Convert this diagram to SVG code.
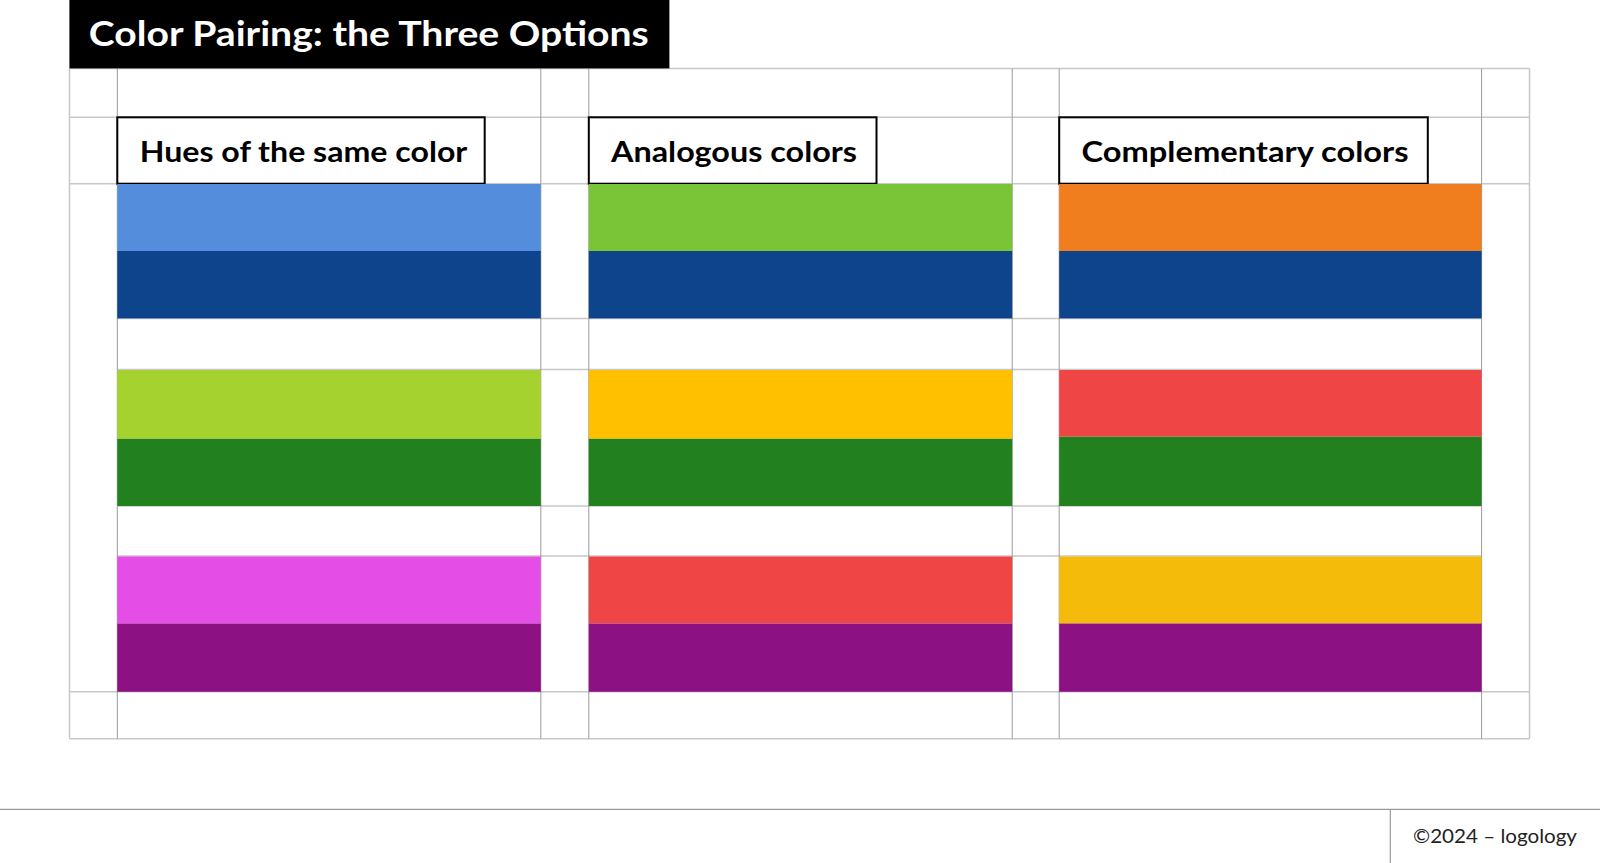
<svg xmlns="http://www.w3.org/2000/svg" width="1600" height="863" viewBox="0 0 1600 863">
<style>
.gl{stroke:#c8c8c8;stroke-width:1.5;fill:none}
.gi{stroke:#9a9a9a;stroke-width:1;fill:none}
.hb{fill:#fff;stroke:#000;stroke-width:2}
.ht{font-family:Lato,"Liberation Sans",sans-serif;font-weight:700;font-size:29px;fill:#000}
.lb{fill:#538DDB}.db{fill:#0E448C}.yg{fill:#A5D22F}.gr{fill:#22801E}.mg{fill:#E54EE6}.pu{fill:#8C1283}
.ag{fill:#7AC537}.ye{fill:#FFC000}.rd{fill:#EF4545}.or{fill:#F07D1E}.yo{fill:#F4BB0A}
</style>
<rect width="1600" height="863" fill="#fff"/>
<g id="grid">
<line class="gl" x1="69.5" y1="68.5" x2="1529.5" y2="68.5"/>
<line class="gl" x1="69.5" y1="117.3" x2="1529.5" y2="117.3"/>
<line class="gl" x1="69.5" y1="183.7" x2="1529.5" y2="183.7"/>
<line class="gl" x1="117.3" y1="318.4" x2="1481.6" y2="318.4"/>
<line class="gl" x1="117.3" y1="369.5" x2="1481.6" y2="369.5"/>
<line class="gl" x1="117.3" y1="506" x2="1481.6" y2="506"/>
<line class="gl" x1="117.3" y1="556" x2="1481.6" y2="556"/>
<line class="gl" x1="69.5" y1="691.8" x2="1529.5" y2="691.8"/>
<line class="gl" x1="69.5" y1="738.8" x2="1529.5" y2="738.8"/>
<line class="gl" x1="69.5" y1="68.5" x2="69.5" y2="738.8"/>
<line class="gl" x1="1529.5" y1="68.5" x2="1529.5" y2="738.8"/>
<line class="gi" x1="117.3" y1="68.5" x2="117.3" y2="738.8"/>
<line class="gi" x1="540.8" y1="68.5" x2="540.8" y2="738.8"/>
<line class="gi" x1="588.8" y1="68.5" x2="588.8" y2="738.8"/>
<line class="gi" x1="1012.2" y1="68.5" x2="1012.2" y2="738.8"/>
<line class="gi" x1="1059.2" y1="68.5" x2="1059.2" y2="738.8"/>
<line class="gi" x1="1481.6" y1="68.5" x2="1481.6" y2="738.8"/>
</g>
<g id="title">
<rect x="69.4" y="0" width="600" height="68.4" fill="#000"/>
<text x="88.8" y="45.7" font-family="Lato,'Liberation Sans',sans-serif" font-weight="700" font-size="35" fill="#fff" textLength="560" lengthAdjust="spacingAndGlyphs">Color Pairing: the Three Options</text>
</g>
<g id="col-hues">
<rect class="hb" x="117.3" y="117.3" width="367.4" height="66.4"/>
<text class="ht" x="139.8" y="161.7" textLength="327.5" lengthAdjust="spacingAndGlyphs">Hues of the same color</text>
<rect class="lb" x="117.3" y="184" width="423.5" height="67"/>
<rect class="db" x="117.3" y="251" width="423.5" height="67.4"/>
<rect class="yg" x="117.3" y="370" width="423.5" height="68.8"/>
<rect class="gr" x="117.3" y="438.8" width="423.5" height="67.2"/>
<rect class="mg" x="117.3" y="556.5" width="423.5" height="67"/>
<rect class="pu" x="117.3" y="623.5" width="423.5" height="68.3"/>
</g>
<g id="col-analogous">
<rect class="hb" x="588.8" y="117.3" width="287.7" height="66.4"/>
<text class="ht" x="611" y="161.7" textLength="246" lengthAdjust="spacingAndGlyphs">Analogous colors</text>
<rect class="ag" x="588.8" y="184" width="423.4" height="67"/>
<rect class="db" x="588.8" y="251" width="423.4" height="67.4"/>
<rect class="ye" x="588.8" y="370" width="423.4" height="68.8"/>
<rect class="gr" x="588.8" y="438.8" width="423.4" height="67.2"/>
<rect class="rd" x="588.8" y="556.5" width="423.4" height="67"/>
<rect class="pu" x="588.8" y="623.5" width="423.4" height="68.3"/>
</g>
<g id="col-complementary">
<rect class="hb" x="1059.2" y="117.3" width="368.6" height="66.4"/>
<text class="ht" x="1081.5" y="161.7" textLength="327" lengthAdjust="spacingAndGlyphs">Complementary colors</text>
<rect class="or" x="1059.2" y="184" width="422.4" height="67"/>
<rect class="db" x="1059.2" y="251" width="422.4" height="67.4"/>
<rect class="rd" x="1059.2" y="370" width="422.4" height="66.7"/>
<rect class="gr" x="1059.2" y="436.7" width="422.4" height="69.3"/>
<rect class="yo" x="1059.2" y="556.5" width="422.4" height="67"/>
<rect class="pu" x="1059.2" y="623.5" width="422.4" height="68.3"/>
</g>
<g id="footer">
<line x1="0" y1="809.3" x2="1600" y2="809.3" stroke="#9a9a9a" stroke-width="1.2"/>
<line x1="1390.3" y1="809.3" x2="1390.3" y2="863" stroke="#9a9a9a" stroke-width="1.2"/>
<text x="1413" y="842.5" font-family="Lato,'Liberation Sans',sans-serif" font-size="20" fill="#222" textLength="164" lengthAdjust="spacingAndGlyphs">©2024 – logology</text>
</g>
</svg>
